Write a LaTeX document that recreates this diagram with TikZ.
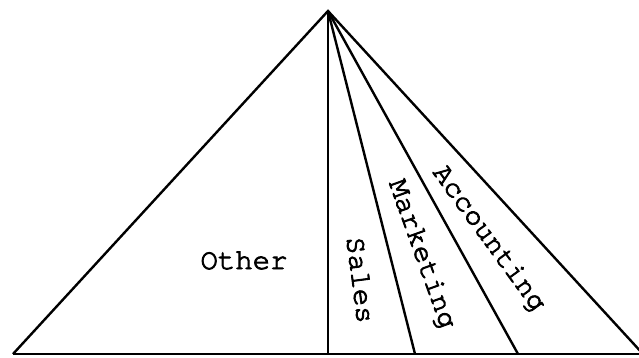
\documentclass[tikz,border=0pt]{standalone}
\usepackage{fontspec}
\newfontfamily\lblfont{texgyrecursor-regular.otf}[FakeBold=3]
\begin{document}
\begin{tikzpicture}[x=1pt,y=-1pt,line join=miter,
  edge/.style={line width=2.4pt},
  baseedge/.style={line width=2.8pt},
  lbl/.style={font={\lblfont\fontsize{29}{30}\selectfont},inner sep=0pt,text height=16pt,text depth=0pt}]
\useasboundingbox (0,0) rectangle (639,358);
\clip (0,0) rectangle (639,358);
\coordinate (apex) at (328,11);
\coordinate (bl) at (13,354);
\coordinate (br) at (643,354);
\coordinate (b1) at (328,354);
\coordinate (b2) at (415,354);
\coordinate (b3) at (518,354);
\draw[edge] (bl) -- (apex) -- (br);
\draw[baseedge] (bl) -- (br);
\draw[edge] (apex) -- (b1);
\draw[edge] (apex) -- (b2);
\draw[edge] (apex) -- (b3);
\node[lbl] (other) at (244,261) {Other};
\node[lbl,rotate=-82.5] (sales) at (360,280) {Sales};
\node[lbl,rotate=-70.2] (marketing) at (423,254) {Marketing};
\node[lbl,rotate=-53.9] (accounting) at (490,238) {Accounting};
\end{tikzpicture}
\end{document}
